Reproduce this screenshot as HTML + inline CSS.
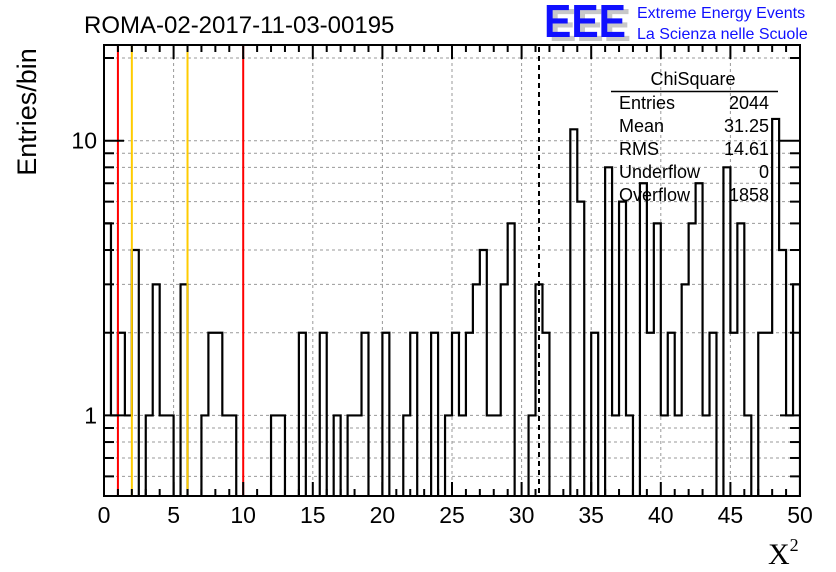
<!DOCTYPE html>
<html><head><meta charset="utf-8"><style>
body{margin:0;background:#fff;}
svg{display:block;font-family:"Liberation Sans",sans-serif;}
</style></head><body>
<svg id="c" width="836" height="572" viewBox="0 0 836 572"></svg>
<script>
const binValues=[5,1,2,1,4,0,1,3,1,1,0,3,0,0,1,2,2,1,1,0,0,0,0,0,1,1,0,0,2,0,0,2,0,1,0,1,1,2,0,0,2,0,0,1,2,0,0,2,0,1,2,1,2,3,4,1,1,3,5,0,0,1,3,2,0,0,0,11,6,0,2,0,8,1,6,1,0,7,2,5,1,2,1,3,5,7,1,2,0,8,2,5,1,0,2,2,12,4,1,3];
const xMin=0, xMax=50;
const xTicks=[0,5,10,15,20,25,30,35,40,45,50];
const yMajorTicks=[1,10];
const yGridValues=[0.6,0.7,0.8,0.9,1,2,3,4,5,6,7,8,9,10,20];
const redLines=[1,10];
const yellowLines=[2,6];
const meanValue=31.25;
const statsLabels=["Entries","Mean","RMS","Underflow","Overflow"];
const statsValues=["2044","31.25","14.61","0","1858"];

const L=104,R=800,T=45,B=496;
const yLogMin=Math.log10(0.509), yLogMax=Math.log10(22.3);
function X(v){return L+(v-xMin)/(xMax-xMin)*(R-L);}
function Y(v){if(v<=0)return B+5;return B-(Math.log10(v)-yLogMin)/(yLogMax-yLogMin)*(B-T);}
const NS="http://www.w3.org/2000/svg";
const svg=document.getElementById('c');
function mk(tag,attrs,parent){const e=document.createElementNS(NS,tag);for(const k in attrs)e.setAttribute(k,attrs[k]);(parent||svg).appendChild(e);return e;}

const defs=mk('defs',{});
const cp=mk('clipPath',{id:'plotclip'},defs);
mk('rect',{x:L,y:T,width:R-L,height:B-T},cp);

const grid=mk('g',{});


xTicks.forEach(v=>{if(v===xMin||v===xMax)return;
 const l=mk('line',{x1:X(v),x2:X(v),y1:T,y2:B,stroke:'#999','stroke-dasharray':'3,3','stroke-width':1},grid);
 
 });
yGridValues.forEach(v=>{
 const l=mk('line',{x1:L,x2:R,y1:Y(v),y2:Y(v),stroke:'#999','stroke-dasharray':'3,3','stroke-width':1},grid);
 
 });

const bw=(xMax-xMin)/binValues.length;
let d='M'+X(xMin)+','+Y(binValues[0]);
binValues.forEach((v,i)=>{const x0=X(xMin+i*bw),x1=X(xMin+(i+1)*bw);d+=' L'+x0+','+Y(v)+' L'+x1+','+Y(v);});
d+=' L'+X(xMax)+','+(B+5);
const hist=mk('path',{d:d,fill:'none',stroke:'#000','stroke-width':2.2,'clip-path':'url(#plotclip)'});



redLines.forEach(v=>{const l=mk('line',{x1:X(v),x2:X(v),y1:T,y2:B,stroke:'#ff0000','stroke-width':2});
 
 });
yellowLines.forEach(v=>{const l=mk('line',{x1:X(v),x2:X(v),y1:T,y2:B,stroke:'#ffcc00','stroke-width':2});
 
 });
const ml=mk('line',{x1:X(meanValue),x2:X(meanValue),y1:T+2,y2:B,stroke:'#000','stroke-width':2,'stroke-dasharray':'5,4'});



const ax=mk('g',{stroke:'#000','stroke-width':2,fill:'none'});


mk('rect',{x:L,y:T,width:R-L,height:B-T},ax);
for(let v=xMin;v<=xMax+1e-9;v+=1){const maj=(v%5===0);const len=maj?14:7;
 mk('line',{x1:X(v),x2:X(v),y1:B,y2:B-len},ax);
 mk('line',{x1:X(v),x2:X(v),y1:T,y2:T+len},ax);}
yGridValues.forEach(v=>{const maj=yMajorTicks.includes(v);const len=maj?20:10;
 mk('line',{x1:L,x2:L+len,y1:Y(v),y2:Y(v)},ax);
 mk('line',{x1:R,x2:R-len,y1:Y(v),y2:Y(v)},ax);});

xTicks.forEach(v=>{const t=mk('text',{x:X(v),y:523,'font-size':23,'text-anchor':'middle',fill:'#000'});t.textContent=v;
 
 });
yMajorTicks.forEach(v=>{const t=mk('text',{x:97,y:Y(v)+8,'font-size':23,'text-anchor':'end',fill:'#000'});t.textContent=v;
 
 });

const sb=mk('g',{});


const st=mk('text',{x:693,y:85,'font-size':18,'text-anchor':'middle'},sb);st.textContent='ChiSquare';
mk('line',{x1:611,x2:778,y1:91.5,y2:91.5,stroke:'#000','stroke-width':1.5},sb);
statsLabels.forEach((s,i)=>{const y=109+i*23;
 const a=mk('text',{x:619,y:y,'font-size':18},sb);a.textContent=s;
 
 
 const b=mk('text',{x:769,y:y,'font-size':18,'text-anchor':'end'},sb);b.textContent=statsValues[i];
 
 });
</script>
<svg width="836" height="572" style="position:absolute;left:0;top:0;font-family:'Liberation Sans',sans-serif">
<text x="84" y="33" font-size="24" fill="#000">ROMA-02-2017-11-03-00195</text>
<text transform="translate(36,112) rotate(-90)" font-size="27" text-anchor="middle" fill="#000">Entries/bin</text>
<text x="768" y="564" font-size="30" font-family="'Liberation Serif',serif" fill="#000">X<tspan font-size="18" dy="-13">2</tspan></text>
<g>
<text x="549" y="41" font-size="46" font-weight="bold" fill="#c8c8c8" textLength="82" lengthAdjust="spacingAndGlyphs">EEE</text>
<text x="544" y="37" font-size="46" font-weight="bold" fill="#1010ff" textLength="82" lengthAdjust="spacingAndGlyphs">EEE</text>
<text x="637" y="18" font-size="16" fill="#1010ff">Extreme Energy Events</text>
<text x="637" y="39" font-size="16" fill="#1010ff">La Scienza nelle Scuole</text>
</g>
</svg>
</body></html>
